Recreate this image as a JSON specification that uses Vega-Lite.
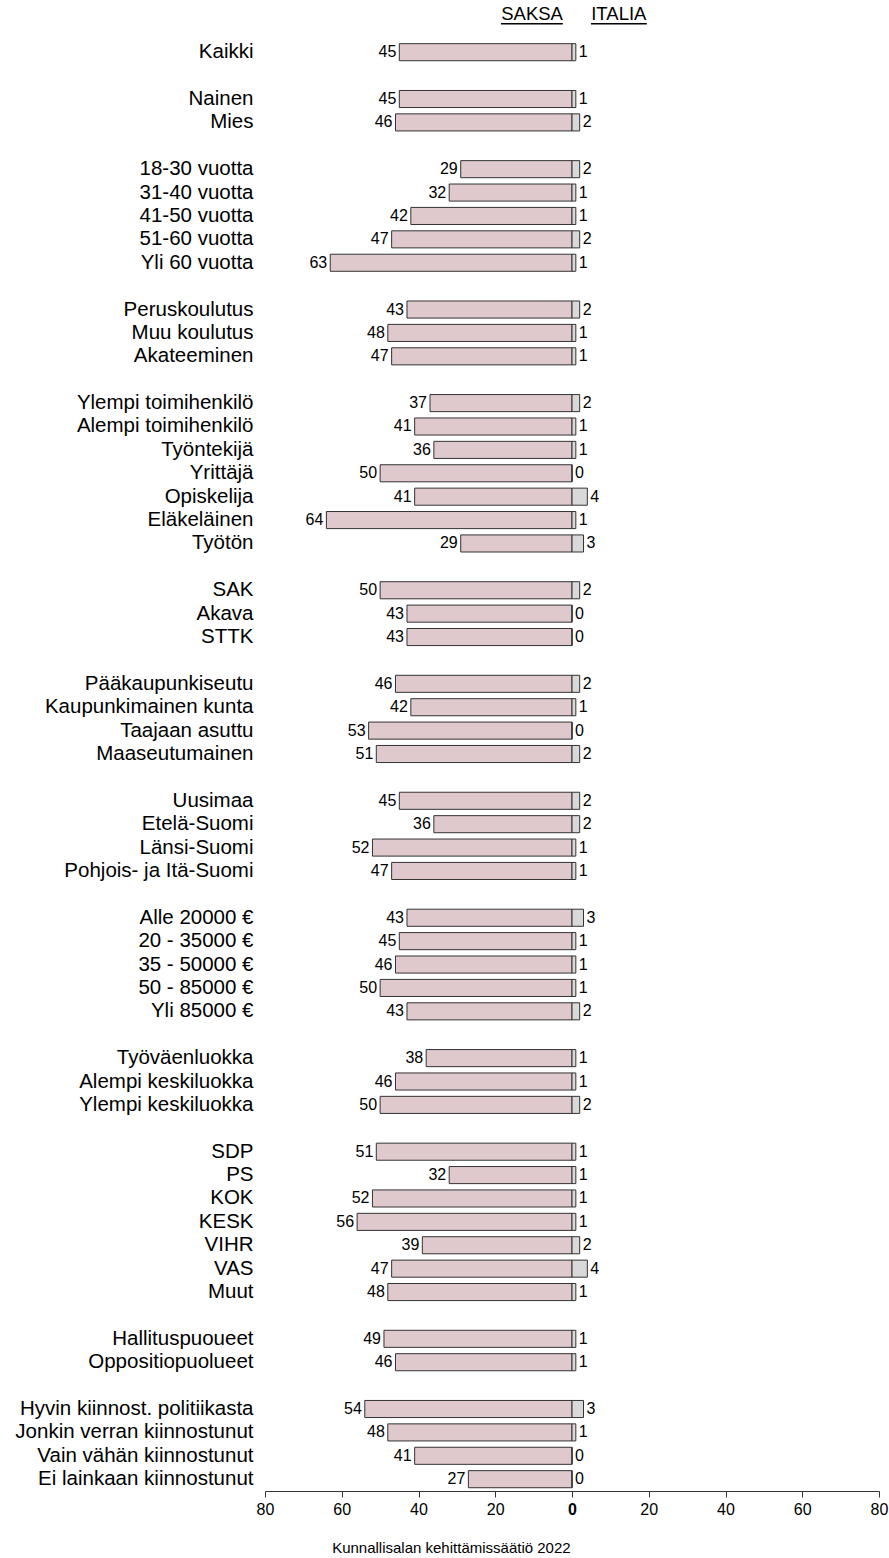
{
  "$schema": "https://vega.github.io/schema/vega-lite/v6.json",
  "autosize": {"type": "none"},
  "width": 614,
  "height": 1474,
  "padding": {"left": 265, "top": 17, "right": 10, "bottom": 67},
  "background": "white",
  "config": {"font": "Liberation Sans", "view": {"stroke": null}},
  "title": {"text": "Kunnallisalan kehittämissäätiö 2022", "orient": "bottom", "anchor": "middle", "frame": "bounds", "fontSize": 15, "fontWeight": "normal", "color": "#000", "offset": 24},
  "data": {"values": [
    {"g": "Kaikki", "saksa": 45, "italia": 1},
    {"g": "Nainen", "saksa": 45, "italia": 1},
    {"g": "Mies", "saksa": 46, "italia": 2},
    {"g": "18-30 vuotta", "saksa": 29, "italia": 2},
    {"g": "31-40 vuotta", "saksa": 32, "italia": 1},
    {"g": "41-50 vuotta", "saksa": 42, "italia": 1},
    {"g": "51-60 vuotta", "saksa": 47, "italia": 2},
    {"g": "Yli 60 vuotta", "saksa": 63, "italia": 1},
    {"g": "Peruskoulutus", "saksa": 43, "italia": 2},
    {"g": "Muu koulutus", "saksa": 48, "italia": 1},
    {"g": "Akateeminen", "saksa": 47, "italia": 1},
    {"g": "Ylempi toimihenkilö", "saksa": 37, "italia": 2},
    {"g": "Alempi toimihenkilö", "saksa": 41, "italia": 1},
    {"g": "Työntekijä", "saksa": 36, "italia": 1},
    {"g": "Yrittäjä", "saksa": 50, "italia": 0},
    {"g": "Opiskelija", "saksa": 41, "italia": 4},
    {"g": "Eläkeläinen", "saksa": 64, "italia": 1},
    {"g": "Työtön", "saksa": 29, "italia": 3},
    {"g": "SAK", "saksa": 50, "italia": 2},
    {"g": "Akava", "saksa": 43, "italia": 0},
    {"g": "STTK", "saksa": 43, "italia": 0},
    {"g": "Pääkaupunkiseutu", "saksa": 46, "italia": 2},
    {"g": "Kaupunkimainen kunta", "saksa": 42, "italia": 1},
    {"g": "Taajaan asuttu", "saksa": 53, "italia": 0},
    {"g": "Maaseutumainen", "saksa": 51, "italia": 2},
    {"g": "Uusimaa", "saksa": 45, "italia": 2},
    {"g": "Etelä-Suomi", "saksa": 36, "italia": 2},
    {"g": "Länsi-Suomi", "saksa": 52, "italia": 1},
    {"g": "Pohjois- ja Itä-Suomi", "saksa": 47, "italia": 1},
    {"g": "Alle 20000 €", "saksa": 43, "italia": 3},
    {"g": "20 - 35000 €", "saksa": 45, "italia": 1},
    {"g": "35 - 50000 €", "saksa": 46, "italia": 1},
    {"g": "50 - 85000 €", "saksa": 50, "italia": 1},
    {"g": "Yli 85000 €", "saksa": 43, "italia": 2},
    {"g": "Työväenluokka", "saksa": 38, "italia": 1},
    {"g": "Alempi keskiluokka", "saksa": 46, "italia": 1},
    {"g": "Ylempi keskiluokka", "saksa": 50, "italia": 2},
    {"g": "SDP", "saksa": 51, "italia": 1},
    {"g": "PS", "saksa": 32, "italia": 1},
    {"g": "KOK", "saksa": 52, "italia": 1},
    {"g": "KESK", "saksa": 56, "italia": 1},
    {"g": "VIHR", "saksa": 39, "italia": 2},
    {"g": "VAS", "saksa": 47, "italia": 4},
    {"g": "Muut", "saksa": 48, "italia": 1},
    {"g": "Hallituspuoueet", "saksa": 49, "italia": 1},
    {"g": "Oppositiopuolueet", "saksa": 46, "italia": 1},
    {"g": "Hyvin kiinnost. politiikasta", "saksa": 54, "italia": 3},
    {"g": "Jonkin verran kiinnostunut", "saksa": 48, "italia": 1},
    {"g": "Vain vähän kiinnostunut", "saksa": 41, "italia": 0},
    {"g": "Ei lainkaan kiinnostunut", "saksa": 27, "italia": 0}
  ]},
  "encoding": {
    "y": {
      "field": "g",
      "type": "nominal",
      "sort": null,
      "title": null,
      "scale": {
        "domain": ["_h", "Kaikki", "_1", "Nainen", "Mies", "_2", "18-30 vuotta", "31-40 vuotta", "41-50 vuotta", "51-60 vuotta", "Yli 60 vuotta", "_3", "Peruskoulutus", "Muu koulutus", "Akateeminen", "_4", "Ylempi toimihenkilö", "Alempi toimihenkilö", "Työntekijä", "Yrittäjä", "Opiskelija", "Eläkeläinen", "Työtön", "_5", "SAK", "Akava", "STTK", "_6", "Pääkaupunkiseutu", "Kaupunkimainen kunta", "Taajaan asuttu", "Maaseutumainen", "_7", "Uusimaa", "Etelä-Suomi", "Länsi-Suomi", "Pohjois- ja Itä-Suomi", "_8", "Alle 20000 €", "20 - 35000 €", "35 - 50000 €", "50 - 85000 €", "Yli 85000 €", "_9", "Työväenluokka", "Alempi keskiluokka", "Ylempi keskiluokka", "_10", "SDP", "PS", "KOK", "KESK", "VIHR", "VAS", "Muut", "_11", "Hallituspuoueet", "Oppositiopuolueet", "_12", "Hyvin kiinnost. politiikasta", "Jonkin verran kiinnostunut", "Vain vähän kiinnostunut", "Ei lainkaan kiinnostunut"],
        "paddingInner": 0.27,
        "paddingOuter": 0.14
      },
      "axis": {
        "domain": false,
        "ticks": false,
        "grid": false,
        "labelPadding": 12,
        "labelFontSize": 20.5,
        "labelColor": "#000",
        "labelLimit": 400,
        "labelExpr": "indexof(datum.label, '_') === 0 ? '' : datum.label"
      }
    }
  },
  "layer": [
    {
      "mark": {"type": "bar", "fill": "#dfc9cd", "stroke": "#333", "strokeWidth": 1},
      "encoding": {
        "x": {"field": "saksa", "type": "quantitative", "scale": {"domain": [-80, 80], "reverse": true}, "axis": null}
      }
    },
    {
      "mark": {"type": "text", "align": "right", "baseline": "middle", "dx": -3, "fontSize": 16, "color": "#000"},
      "encoding": {
        "x": {"field": "saksa", "type": "quantitative", "scale": {"domain": [-80, 80], "reverse": true}, "axis": null},
        "text": {"field": "saksa", "type": "quantitative"}
      }
    },
    {
      "mark": {"type": "bar", "fill": "#d9d9d9", "stroke": "#333", "strokeWidth": 1},
      "encoding": {
        "x": {
          "field": "italia",
          "type": "quantitative",
          "scale": {"domain": [-80, 80]},
          "title": null,
          "axis": {
            "values": [-80, -60, -40, -20, 0, 20, 40, 60, 80],
            "labelExpr": "abs(datum.value)",
            "labelFlush": false,
            "labelOverlap": false,
            "labelFontSize": 16,
            "labelColor": "#000",
            "labelPadding": 4,
            "labelFontWeight": {"condition": {"test": "datum.value === 0", "value": "bold"}, "value": "normal"},
            "tickSize": 6,
            "tickColor": "#333",
            "domainColor": "#333",
            "grid": false
          }
        }
      }
    },
    {
      "mark": {"type": "text", "align": "left", "baseline": "middle", "dx": 3, "fontSize": 16, "color": "#000"},
      "encoding": {
        "x": {"field": "italia", "type": "quantitative", "scale": {"domain": [-80, 80]}, "axis": null},
        "text": {"field": "italia", "type": "quantitative"}
      }
    },
    {
      "data": {"values": [{"h": "SAKSA"}]},
      "mark": {"type": "text", "align": "center", "baseline": "alphabetic", "dy": -8.4, "fontSize": 18.5, "color": "#000"},
      "encoding": {
        "x": {"datum": -10.4, "type": "quantitative", "scale": {"domain": [-80, 80]}, "axis": null},
        "y": {"datum": "_h"},
        "text": {"field": "h"}
      }
    },
    {
      "data": {"values": [{"h": "ITALIA"}]},
      "mark": {"type": "text", "align": "center", "baseline": "alphabetic", "dy": -8.4, "fontSize": 18.5, "color": "#000"},
      "encoding": {
        "x": {"datum": 12.2, "type": "quantitative", "scale": {"domain": [-80, 80]}, "axis": null},
        "y": {"datum": "_h"},
        "text": {"field": "h"}
      }
    },
    {
      "data": {"values": [{"h": "SAKSA"}]},
      "mark": {"type": "rule", "color": "#000", "strokeWidth": 1.5, "yOffset": -5},
      "encoding": {
        "x": {"datum": -18.5, "type": "quantitative", "scale": {"domain": [-80, 80]}, "axis": null},
        "x2": {"datum": -2.4},
        "y": {"datum": "_h"}
      }
    },
    {
      "data": {"values": [{"h": "ITALIA"}]},
      "mark": {"type": "rule", "color": "#000", "strokeWidth": 1.5, "yOffset": -5},
      "encoding": {
        "x": {"datum": 4.95, "type": "quantitative", "scale": {"domain": [-80, 80]}, "axis": null},
        "x2": {"datum": 19.5},
        "y": {"datum": "_h"}
      }
    }
  ],
  "resolve": {"scale": {"x": "independent"}, "axis": {"x": "independent"}}
}
